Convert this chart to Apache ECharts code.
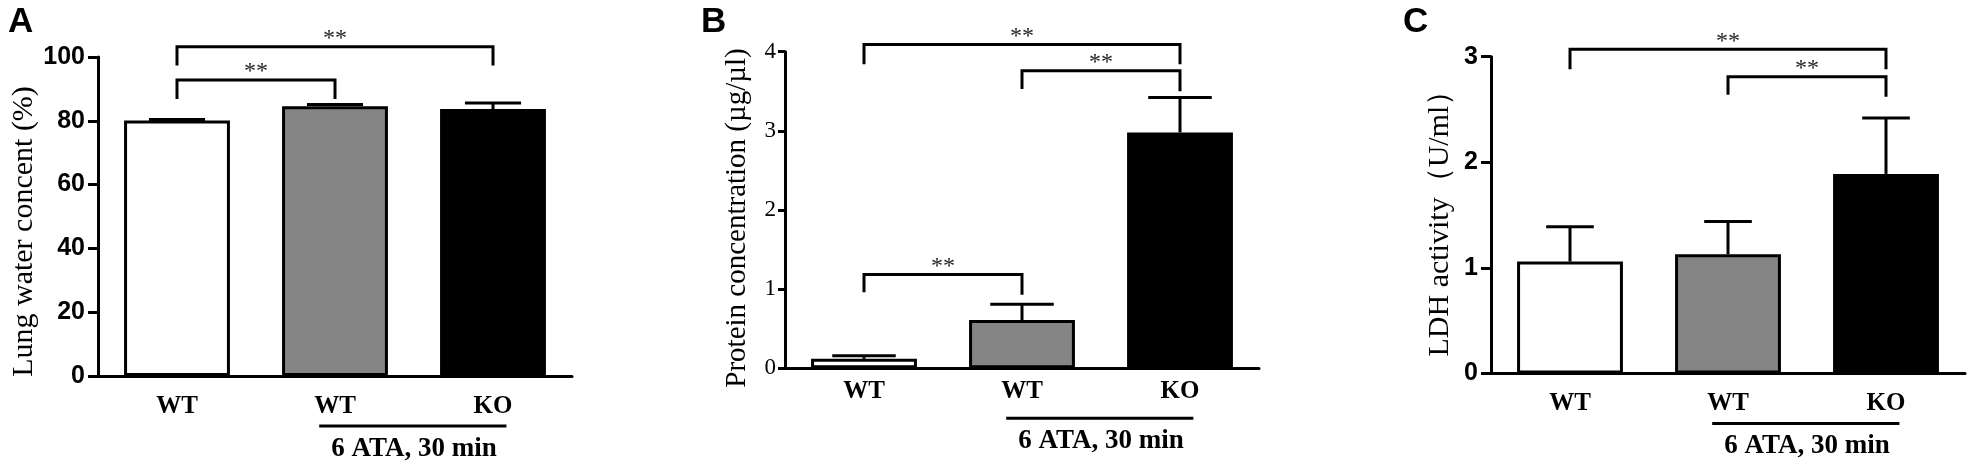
<!DOCTYPE html>
<html>
<head>
<meta charset="utf-8">
<script src="https://cdn.jsdelivr.net/npm/echarts@6/dist/echarts.min.js"></script>
<style>
  html, body { margin: 0; padding: 0; background: #fff; }
  #main { width: 1971px; height: 463px; }
</style>
</head>
<body>
<div id="main"></div>
<script>
// values
const categories = ['WT', 'WT', 'KO'];
const groupLabel = '6 ATA, 30 min';

const lungWater = [80.1, 84.6, 83.7];
const lungWaterSD = [0.3, 0.5, 1.9];
const lungBrackets = [[0, 2, 103.2, 97.3, 97.3], [0, 1, 92.8, 86.8, 86.8]];

const protein = [0.12, 0.61, 2.98];
const proteinSD = [0.04, 0.20, 0.44];
const proteinBrackets = [[0, 2, 4.09, 3.84, 3.84], [1, 2, 3.76, 3.53, 3.50], [0, 1, 1.185, 0.96, 0.93]];

const ldh = [1.06, 1.13, 1.89];
const ldhSD = [0.33, 0.31, 0.53];
const ldhBrackets = [[0, 2, 3.07, 2.88, 2.88], [1, 2, 2.81, 2.64, 2.62]];

const fills = ['#ffffff', '#858585', '#000000'];
const serif = 'Liberation Serif';
const sans = 'Liberation Sans';

var chart = echarts.init(document.getElementById('main'));

function barSeries(idx, values) {
    return {
        type: 'bar',
        xAxisIndex: idx,
        yAxisIndex: idx,
        barWidth: '67%',
        data: values.map((v, i) => ({ value: v, itemStyle: { color: fills[i] } })),
        itemStyle: { borderColor: '#000', borderWidth: 3 },
        silent: true
    };
}

function errorSeries(idx, values, sds, capRatio) {
    return {
        type: 'custom',
        xAxisIndex: idx,
        yAxisIndex: idx,
        z: 3,
        encode: { x: 0, y: 1 },
        data: values.map((v, i) => [i, v, sds[i]]),
        renderItem: function (params, api) {
            const x = api.value(0), mean = api.value(1), sd = api.value(2);
            const base = api.coord([x, mean]);
            const top = api.coord([x, mean + sd]);
            const half = api.size([1, 0])[0] * 0.67 * capRatio / 2;
            const st = { stroke: '#000', lineWidth: 3 };
            return {
                type: 'group',
                children: [
                    { type: 'line', shape: { x1: base[0], y1: base[1], x2: top[0], y2: top[1] }, style: st },
                    { type: 'line', shape: { x1: top[0] - half, y1: top[1], x2: top[0] + half, y2: top[1] }, style: st }
                ]
            };
        }
    };
}

function bracketSeries(idx, brackets) {
    return {
        type: 'custom',
        xAxisIndex: idx,
        yAxisIndex: idx,
        z: 4,
        encode: { x: [0, 1], y: [2, 3, 4] },
        data: brackets,
        renderItem: function (params, api) {
            const a = api.coord([api.value(0), api.value(2)]);
            const b = api.coord([api.value(1), api.value(2)]);
            const l = api.coord([api.value(0), api.value(3)]);
            const r = api.coord([api.value(1), api.value(4)]);
            return {
                type: 'group',
                children: [
                    {
                        type: 'polyline',
                        shape: { points: [[l[0], l[1]], [a[0], a[1]], [b[0], b[1]], [r[0], r[1]]] },
                        style: { stroke: '#000', lineWidth: 3, fill: null }
                    },
                    {
                        type: 'text',
                        style: {
                            text: '**', x: (a[0] + b[0]) / 2, y: a[1] - 8,
                            font: '24px ' + serif, fill: '#222', align: 'center', verticalAlign: 'middle'
                        }
                    }
                ]
            };
        }
    };
}

function groupSeries(idx) {
    return {
        type: 'custom',
        xAxisIndex: idx,
        yAxisIndex: idx,
        z: 4,
        encode: { x: [0, 1], y: 2 },
        data: [[1, 2, 0]],
        renderItem: function (params, api) {
            const p1 = api.coord([api.value(0), 0]);
            const p2 = api.coord([api.value(1), 0]);
            const band = api.size([1, 0])[0];
            const y0 = p1[1];
            return {
                type: 'group',
                children: [
                    {
                        type: 'line',
                        shape: { x1: p1[0] - 0.1 * band, y1: y0 + 50, x2: p2[0] + 0.085 * band, y2: y0 + 50 },
                        style: { stroke: '#000', lineWidth: 3 }
                    },
                    {
                        type: 'text',
                        style: {
                            text: groupLabel, x: (p1[0] + p2[0]) / 2, y: y0 + 73,
                            font: 'bold 27px ' + serif, fill: '#000', align: 'center', verticalAlign: 'middle'
                        }
                    }
                ]
            };
        }
    };
}

function xAxis(idx, margin) {
    return {
        gridIndex: idx,
        type: 'category',
        data: categories,
        axisLine: { lineStyle: { color: '#000', width: 3 } },
        axisTick: { alignWithLabel: true, length: 10, lineStyle: { color: '#000', width: 3 } },
        axisLabel: { margin: margin, color: '#000', fontFamily: serif, fontWeight: 'bold', fontSize: 25 }
    };
}

function yAxis(idx, max, interval, name, opts) {
    return {
        gridIndex: idx,
        type: 'value',
        min: 0,
        max: max,
        interval: interval,
        name: name,
        nameLocation: 'middle',
        nameGap: opts.nameGap,
        nameTextStyle: {
            color: '#000', fontFamily: serif, fontSize: opts.nameSize,
            padding: [0, opts.namePad, 0, 0]
        },
        axisLine: { show: true, lineStyle: { color: '#000', width: 3 } },
        axisTick: { show: true, length: opts.tick, lineStyle: { color: '#000', width: 3 } },
        splitLine: { show: false },
        axisLabel: {
            margin: opts.labelMargin, color: '#000', fontFamily: opts.labelFont,
            fontWeight: opts.labelWeight, fontSize: opts.labelSize
        }
    };
}

var option = {
    backgroundColor: '#fff',
    animation: false,
    title: [
        { text: 'A', left: 3, top: 0, textStyle: { fontFamily: sans, fontWeight: 'bold', fontSize: 35, color: '#000' } },
        { text: 'B', left: 696, top: 0, textStyle: { fontFamily: sans, fontWeight: 'bold', fontSize: 35, color: '#000' } },
        { text: 'C', left: 1398, top: 0, textStyle: { fontFamily: sans, fontWeight: 'bold', fontSize: 35, color: '#000' } }
    ],
    grid: [
        { left: 98, top: 57, width: 474, height: 319 },
        { left: 785, top: 51.7, width: 474, height: 316.6 },
        { left: 1491, top: 56.7, width: 474, height: 316.8 }
    ],
    xAxis: [xAxis(0, 18), xAxis(1, 11), xAxis(2, 18)],
    yAxis: [
        yAxis(0, 100, 20, 'Lung water concent (%)', {
            nameGap: 49, nameSize: 30, namePad: 30, tick: 10, labelMargin: 13,
            labelFont: sans, labelWeight: 'bold', labelSize: 25
        }),
        yAxis(1, 4, 1, 'Protein concentration (\u00b5g/\u00b5l)', {
            nameGap: 33, nameSize: 29, namePad: 16, tick: 7, labelMargin: 9,
            labelFont: serif, labelWeight: 'normal', labelSize: 23
        }),
        yAxis(2, 3, 1, 'LDH activity\uff08U/ml\uff09', {
            nameGap: 36, nameSize: 30, namePad: 2, tick: 10, labelMargin: 13,
            labelFont: sans, labelWeight: 'bold', labelSize: 25
        })
    ],
    series: [
        barSeries(0, lungWater), errorSeries(0, lungWater, lungWaterSD, 0.53),
        bracketSeries(0, lungBrackets), groupSeries(0),
        barSeries(1, protein), errorSeries(1, protein, proteinSD, 0.6),
        bracketSeries(1, proteinBrackets), groupSeries(1),
        barSeries(2, ldh), errorSeries(2, ldh, ldhSD, 0.45),
        bracketSeries(2, ldhBrackets), groupSeries(2)
    ]
};

chart.setOption(option);
</script>
</body>
</html>
